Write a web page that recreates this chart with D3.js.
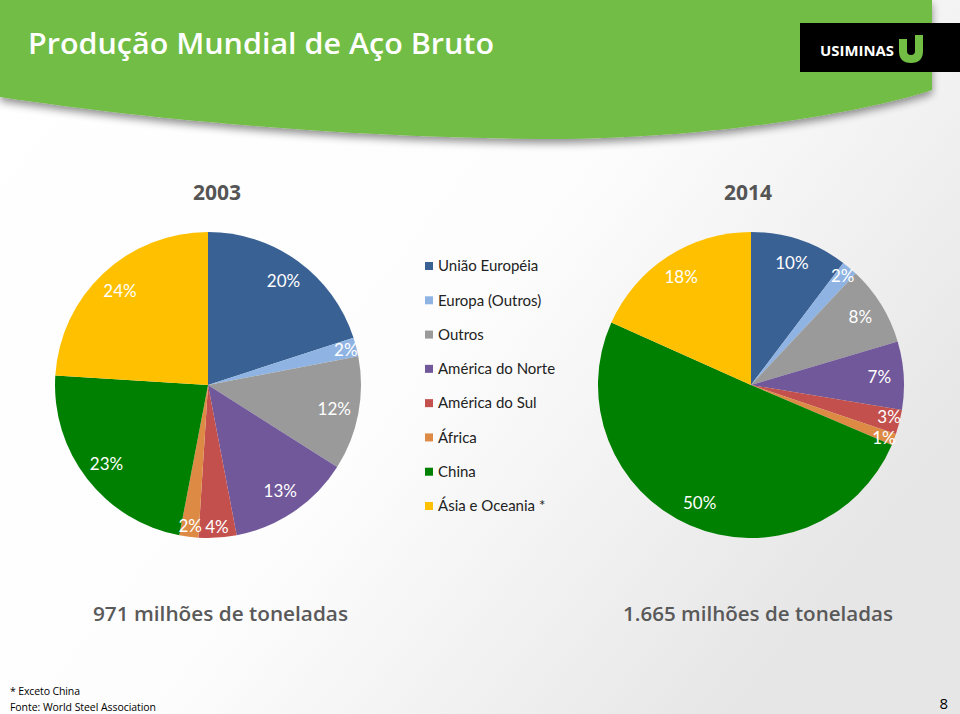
<!DOCTYPE html>
<html><head><meta charset="utf-8">
<script src="https://cdn.jsdelivr.net/npm/d3@7"></script>
<style>body{margin:0;background:#fff}svg{display:block}</style>
</head><body>
<svg id="c" width="960" height="714"></svg>
<script>
const categories = ["União Européia","Europa (Outros)","Outros","América do Norte","América do Sul","África","China","Ásia e Oceania *"];
const colors = ["#3a6194","#8fb4e3","#9a9a9a","#70589a","#c3504d","#dd8a45","#008000","#ffc000"];
const values2003 = [20,2,12,13,4,2,23,24];
const labels2003 = ["20%","2%","12%","13%","4%","2%","23%","24%"];
const values2014 = [10.3,1.7,8.4,7.2,2.6,1.2,50.3,18.3];
const labels2014 = ["10%","2%","8%","7%","3%","1%","50%","18%"];
const years = ["2003","2014"];
const totals = ["971 milhões de toneladas","1.665 milhões de toneladas"];
const title = "Produção Mundial de Aço Bruto";
const notes = ["* Exceto China","Fonte: World Steel Association"];
const pageNum = "8";

const svg = d3.select("#c");
const defs = svg.append("defs");
const bg = defs.append("linearGradient").attr("id","bg").attr("x1","0").attr("y1","0").attr("x2","1").attr("y2","0.6");
bg.append("stop").attr("offset","0").attr("stop-color","#ffffff");
bg.append("stop").attr("offset","0.55").attr("stop-color","#fdfdfd");
bg.append("stop").attr("offset","1").attr("stop-color","#e6e6e6");
const sh = defs.append("filter").attr("id","sh").attr("x","-5%").attr("y","-20%").attr("width","110%").attr("height","150%");
sh.append("feGaussianBlur").attr("in","SourceAlpha").attr("stdDeviation","4");
sh.append("feOffset").attr("dy","4").attr("result","b");
sh.append("feComponentTransfer").append("feFuncA").attr("type","linear").attr("slope","0.45");
const m = sh.append("feMerge"); m.append("feMergeNode"); m.append("feMergeNode").attr("in","SourceGraphic");

svg.append("rect").attr("width",960).attr("height",714).attr("fill","url(#bg)");
// banner
svg.append("path").attr("d","M0,0 L932,0 L932,90 C 880,108 720,140 540,139 C 330,137 140,118 0,97 Z")
  .attr("fill","#72bd44").attr("filter","url(#sh)");
svg.append("text").attr("x",28).attr("y",54).text(title)
  .attr("font-family","'Open Sans',sans-serif").attr("font-weight","600").attr("font-size",29)
  .attr("fill","#fff").attr("textLength",466).attr("lengthAdjust","spacingAndGlyphs");
// logo
svg.append("rect").attr("x",800).attr("y",23).attr("width",160).attr("height",49).attr("fill","#000");
svg.append("text").attr("x",820).attr("y",56).text("USIMINAS")
  .attr("font-family","'Open Sans',sans-serif").attr("font-weight","bold").attr("font-size",15)
  .attr("fill","#fff").attr("textLength",74).attr("lengthAdjust","spacingAndGlyphs");
svg.append("path").attr("d","M903,39 V51 Q903,59 911,59 Q919,59 919,51 V35")
  .attr("fill","none").attr("stroke","#72bd44").attr("stroke-width",8).attr("stroke-linecap","butt");

const r = 153;
const pie = d3.pie().sort(null).value(d=>d);
const arc = d3.arc().innerRadius(0).outerRadius(r);
function drawPie(cx, cy, vals, labs){
  const g = svg.append("g").attr("transform",`translate(${cx},${cy})`);
  const arcs = pie(vals);
  g.selectAll("path").data(arcs).join("path").attr("d",arc).attr("fill",(d,i)=>colors[i]);
  const pos = arcs.map(d=>{
    const a=(d.startAngle+d.endAngle)/2;
    const frac=(d.endAngle-d.startAngle)/(2*Math.PI);
    const rr = r*(frac<0.05?0.93:0.84);
    return [Math.sin(a)*rr, -Math.cos(a)*rr];
  });
  // simple collision nudge between vertically stacked neighbouring labels
  for(let i=1;i<pos.length;i++){
    const p=pos[i-1], q=pos[i];
    if(Math.abs(q[0]-p[0])<15 && Math.abs(q[1]-p[1])<21){
      const s = q[1]>=p[1]?1:-1;
      const shift = (21-Math.abs(q[1]-p[1]))/2;
      p[1]-=s*shift; q[1]+=s*shift;
    }
  }
  g.selectAll("text").data(arcs).join("text")
    .attr("transform",(d,i)=>`translate(${pos[i][0]},${pos[i][1]})`)
    .attr("text-anchor","middle").attr("dy","0.35em")
    .attr("font-family","Lato,sans-serif").attr("font-size",17).attr("fill","#fff")
    .text((d,i)=>labs[i]);
}
drawPie(208,385,values2003,labels2003);
drawPie(751,385,values2014,labels2014);

// years
[217,748].forEach((x,i)=>{
  svg.append("text").attr("x",x).attr("y",200).attr("text-anchor","middle").text(years[i])
    .attr("font-family","'Open Sans',sans-serif").attr("font-weight","bold").attr("font-size",21).attr("fill","#555");
});
// legend
const lg = svg.append("g");
const ly = d3.scalePoint().domain(categories).range([266,506]);
categories.forEach((c,i)=>{
  lg.append("rect").attr("x",425).attr("y",ly(c)-4).attr("width",8).attr("height",8).attr("fill",colors[i]);
  lg.append("text").attr("x",438).attr("y",ly(c)).attr("dy","0.35em").text(c)
    .attr("font-family","Lato,sans-serif").attr("font-size",15).attr("fill","#222");
});
// totals
[[93,255],[623,270]].forEach(([x,w],i)=>{
  svg.append("text").attr("x",x).attr("y",621).text(totals[i])
    .attr("font-family","'Open Sans',sans-serif").attr("font-weight","600").attr("font-size",20).attr("fill","#595959")
    .attr("textLength",w).attr("lengthAdjust","spacingAndGlyphs");
});
// footer
svg.append("text").attr("x",10).attr("y",695).text(notes[0]).attr("font-family","'Open Sans',sans-serif").attr("font-size",10.5).attr("fill","#000").attr("textLength",70);
svg.append("text").attr("x",10).attr("y",711).text(notes[1]).attr("font-family","'Open Sans',sans-serif").attr("font-size",10.5).attr("fill","#000").attr("textLength",146);
svg.append("text").attr("x",948).attr("y",709).attr("text-anchor","end").text(pageNum).attr("font-family","'Open Sans',sans-serif").attr("font-size",15).attr("fill","#000");
</script>
</body></html>
